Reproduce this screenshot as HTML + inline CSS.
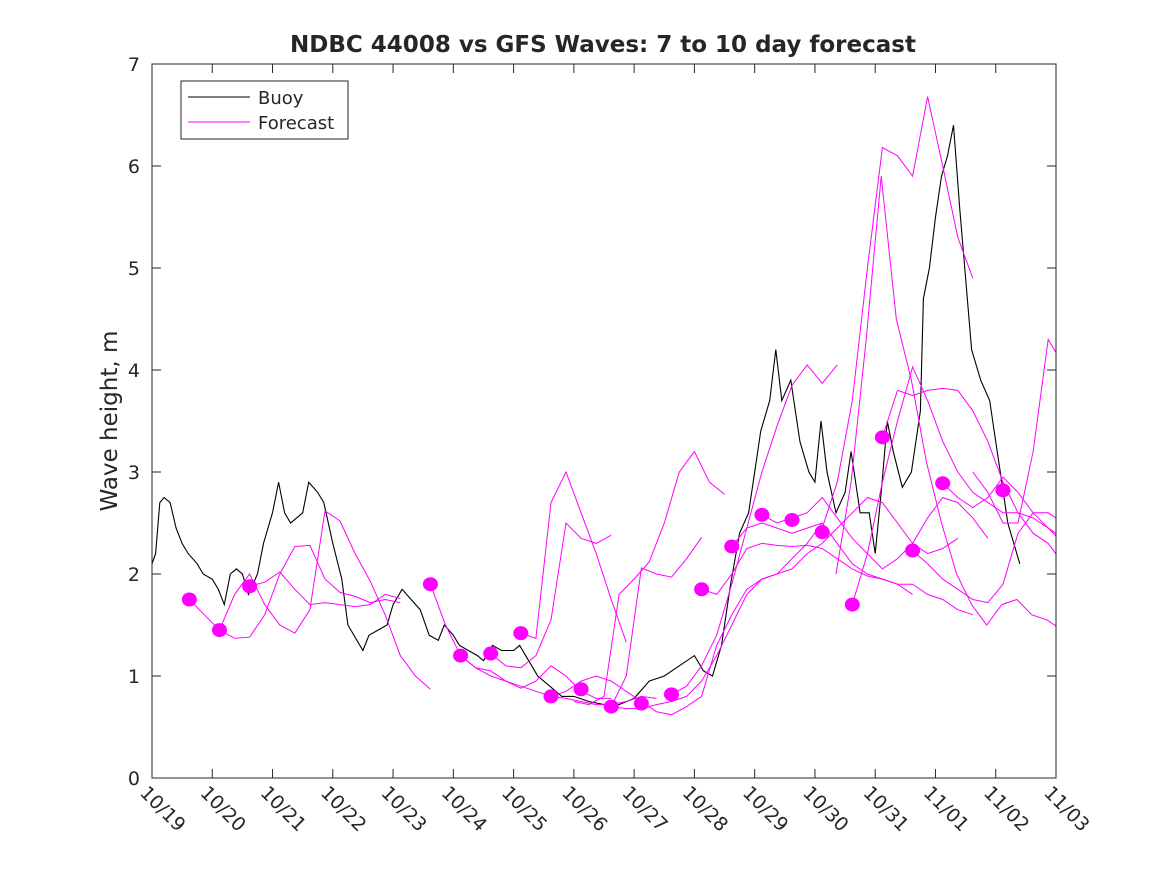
<!DOCTYPE html>
<html><head><meta charset="utf-8"><style>
body{margin:0;background:#fff;}
svg text{font-family:"DejaVu Sans","Liberation Sans",sans-serif;fill:#262626;}
</style></head><body>
<svg id="chart" width="1167" height="875" xmlns="http://www.w3.org/2000/svg">
<rect width="1167" height="875" fill="#fff"/>
<text x="603" y="52" text-anchor="middle" font-size="23" font-weight="bold" fill="#000">NDBC 44008 vs GFS Waves: 7 to 10 day forecast</text>
<text transform="translate(117,421) rotate(-90)" text-anchor="middle" font-size="23">Wave height, m</text>
<g id="plot"></g>
<rect x="152" y="64" width="904" height="714" fill="none" stroke="#262626" stroke-width="1"/>
<g id="axes"></g>
<g>
<rect x="181" y="81" width="167" height="58" fill="#fff" stroke="#262626"/>
<line x1="188" y1="97" x2="250" y2="97" stroke="#000"/>
<text x="258" y="104" font-size="18" fill="#000">Buoy</text>
<line x1="188" y1="122" x2="250" y2="122" stroke="#f0f"/>
<text x="258" y="129" font-size="18" fill="#000">Forecast</text>
</g>
</svg>
<script>
const xTickLabels=["10/19","10/20","10/21","10/22","10/23","10/24","10/25","10/26","10/27","10/28","10/29","10/30","10/31","11/01","11/02","11/03"];
const yTicks=[0,1,2,3,4,5,6,7];
const buoyDays=[19.0,19.06,19.13,19.2,19.3,19.4,19.5,19.6,19.75,19.85,20.0,20.1,20.2,20.3,20.4,20.5,20.6,20.75,20.85,21.0,21.1,21.2,21.3,21.4,21.5,21.6,21.75,21.85,22.0,22.15,22.25,22.4,22.5,22.6,22.75,22.9,23.0,23.15,23.3,23.45,23.6,23.75,23.85,24.0,24.1,24.25,24.4,24.5,24.65,24.8,25.0,25.1,25.25,25.4,25.6,25.8,26.0,26.25,26.5,26.75,27.0,27.25,27.5,27.75,28.0,28.15,28.3,28.45,28.6,28.75,28.9,29.0,29.1,29.25,29.35,29.45,29.6,29.75,29.9,30.0,30.1,30.2,30.35,30.5,30.6,30.75,30.9,31.0,31.1,31.2,31.3,31.45,31.6,31.75,31.8,31.9,32.0,32.1,32.2,32.3,32.4,32.5,32.6,32.75,32.9,33.0,33.1,33.2,33.3,33.4];
const buoyVals=[2.1,2.2,2.7,2.75,2.7,2.45,2.3,2.2,2.1,2.0,1.95,1.85,1.7,2.0,2.05,2.0,1.8,2.0,2.3,2.6,2.9,2.6,2.5,2.55,2.6,2.9,2.8,2.7,2.3,1.95,1.5,1.35,1.25,1.4,1.45,1.5,1.7,1.85,1.75,1.65,1.4,1.35,1.5,1.4,1.3,1.25,1.2,1.15,1.3,1.25,1.25,1.3,1.15,1.0,0.9,0.8,0.8,0.75,0.72,0.72,0.78,0.95,1.0,1.1,1.2,1.05,1.0,1.3,1.9,2.4,2.6,3.0,3.4,3.7,4.2,3.7,3.9,3.3,3.0,2.9,3.5,3.0,2.6,2.8,3.2,2.6,2.6,2.2,2.8,3.5,3.2,2.85,3.0,3.6,4.7,5.0,5.5,5.9,6.1,6.4,5.6,4.9,4.2,3.9,3.7,3.3,2.9,2.5,2.3,2.1];
const dotDays=[19.62,20.12,20.62,23.62,24.12,24.62,25.12,25.62,26.12,26.62,27.12,27.62,28.12,28.62,29.12,29.62,30.12,30.62,31.12,31.62,32.12,33.12];
const dotVals=[1.75,1.45,1.88,1.9,1.2,1.22,1.42,0.8,0.87,0.7,0.73,0.82,1.85,2.27,2.58,2.53,2.41,1.7,3.34,2.23,2.89,2.82];
const lineStarts=[19.62,20.62,20.12,23.62,24.12,24.62,25.12,26.0,26.62,27.62,25.62,26.62,28.12,28.62,29.12,30.12,30.35,31.12,30.62,31.62,32.12,32.62];
const lineVals=[
[1.75,1.6,1.45,1.37,1.38,1.6,2.0,2.27,2.28,1.95,1.82,1.78,1.72,1.75,1.72],
[1.88,1.92,2.02,1.85,1.7,1.72,1.7,1.68,1.7,1.8,1.76],
[1.45,1.8,2.0,1.7,1.5,1.42,1.65,2.62,2.52,2.2,1.93,1.6,1.2,1.0,0.87],
[1.9,1.5,1.2,1.08,1.05,0.95,0.88,0.95,1.1,1.0,0.85,0.78,0.78],
[1.2,1.08,1.0,0.95,0.9,0.85,0.8,0.78,0.75,0.72,0.72,0.75,0.8,0.78],
[1.22,1.1,1.08,1.2,1.55,2.5,2.35,2.3,2.38],
[1.42,1.37,2.7,3.0,2.6,2.2,1.75,1.33],
[0.75,0.72,0.8,1.8,1.95,2.12,2.5,3.0,3.2,2.9,2.78],
[0.7,1.0,2.06,2.0,1.97,2.15,2.36],
[0.82,0.9,1.1,1.4,1.9,2.45,3.0,3.45,3.85,4.05,3.87,4.05],
[0.8,0.85,0.95,1.0,0.95,0.85,0.75,0.65,0.62,0.7,0.8,1.3,1.6,1.85,1.95,2.0,2.15,2.3,2.5],
[0.7,0.68,0.68,0.72,0.75,0.8,0.95,1.2,1.5,1.8,1.95,2.0,2.05,2.2,2.3,2.45,2.6,2.75,2.7,2.5,2.3,2.2,2.25,2.35],
[1.85,1.8,2.0,2.25,2.3,2.28,2.27,2.28,2.25,2.15,2.05,1.98,1.95,1.9,1.8],
[2.27,2.45,2.5,2.45,2.4,2.45,2.5,2.3,2.1,2.0,1.95,1.9,1.9,1.8,1.75,1.65,1.6],
[2.58,2.5,2.55,2.6,2.75,2.55,2.35,2.2,2.05,2.15,2.3,2.55,2.75,2.7,2.55,2.35],
[2.45,2.9,3.7,5.0,6.18,6.1,5.9,6.68,6.0,5.3,4.9],
[2.0,2.9,4.3,5.9,4.5,3.9,3.1,2.5,2.0,1.7,1.5,1.7,1.75,1.6,1.55,1.45],
[3.34,3.8,3.75,3.8,3.82,3.8,3.6,3.3,2.9,2.6,2.4,2.3,2.1,2.0,1.9],
[1.7,2.2,2.9,3.5,4.03,3.7,3.3,3.0,2.8,2.7,2.6,2.6,2.55,2.45,2.3],
[2.23,2.1,1.95,1.85,1.75,1.72,1.9,2.4,2.6,2.6,2.5,2.4,2.25,2.1,2.0,1.95],
[2.89,2.75,2.65,2.75,2.95,2.8,2.6,2.45,2.35],
[3.0,2.8,2.5,2.5,3.2,4.3,4.05]];
const lineStep=0.25;
const NS="http://www.w3.org/2000/svg";
const X0=152,X1=1056,Y0=778,Y1=64,D0=19,D1=34,V0=0,V1=7;
const xs=d=>X0+(d-D0)/(D1-D0)*(X1-X0);
const ys=v=>Y0-(v-V0)/(V1-V0)*(Y0-Y1);
const plot=document.getElementById('plot'),axes=document.getElementById('axes');
function mk(tag,attrs,parent){const e=document.createElementNS(NS,tag);for(const k in attrs)e.setAttribute(k,attrs[k]);parent.appendChild(e);return e;}
const defs=mk('defs',{},plot);const cp=mk('clipPath',{id:'cp'},defs);mk('rect',{x:X0,y:Y1,width:X1-X0,height:Y0-Y1},cp);
const g=mk('g',{'clip-path':'url(#cp)'},plot);
const bp=buoyDays.map((d,i)=>xs(d).toFixed(1)+','+ys(buoyVals[i]).toFixed(1)).join(' ');
const bl=mk('polyline',{points:bp,fill:'none',stroke:'#000','stroke-width':1.1},g);


lineStarts.forEach((s,j)=>{
 const pts=lineVals[j].map((v,i)=>xs(s+i*lineStep).toFixed(1)+','+ys(v).toFixed(1)).join(' ');
 const pl=mk('polyline',{points:pts,fill:'none',stroke:'#ff00ff','stroke-width':1},g);
 
 
});
dotDays.forEach((d,j)=>{
 const c=mk('ellipse',{cx:xs(d),cy:ys(dotVals[j]),rx:7.5,ry:7,fill:'#ff00ff'},g);
 
 
});
yTicks.forEach(v=>{
 const y=ys(v);
 mk('line',{x1:X0,y1:y,x2:X0+9,y2:y,stroke:'#262626'},axes);
 mk('line',{x1:X1,y1:y,x2:X1-9,y2:y,stroke:'#262626'},axes);
 const t=mk('text',{x:X0-12,y:y+7,'text-anchor':'end','font-size':19},axes);t.textContent=v;
 
 
});
xTickLabels.forEach((lab,i)=>{
 const x=xs(D0+i);
 mk('line',{x1:x,y1:Y0,x2:x,y2:Y0-9,stroke:'#262626'},axes);
 mk('line',{x1:x,y1:Y1,x2:x,y2:Y1+9,stroke:'#262626'},axes);
 const t=mk('text',{transform:`translate(${x-13},${794}) rotate(45)`,'font-size':19},axes);t.textContent=lab;
 
 
});
</script>
</body></html>
